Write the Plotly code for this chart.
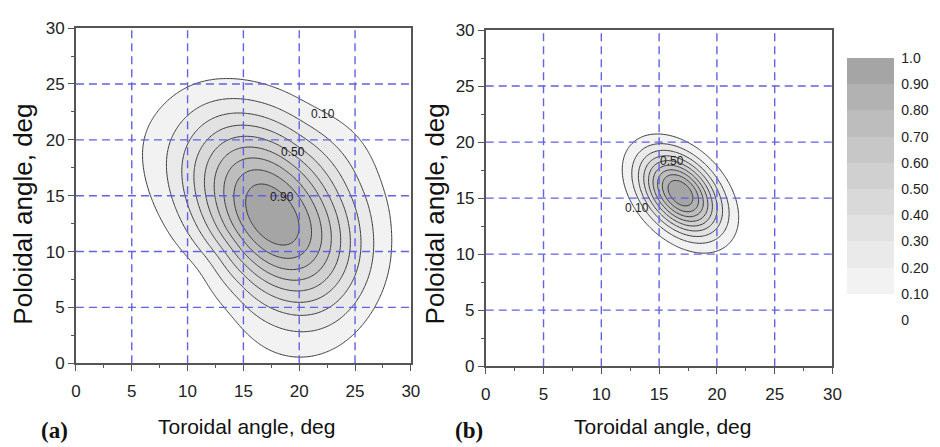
import numpy as np
import plotly.graph_objects as go

W, H = 940, 447

# ---------------- data ----------------
tick_vals = [0, 5, 10, 15, 20, 25, 30]
minor_vals = [2.5, 7.5, 12.5, 17.5, 22.5, 27.5]
grid_vals = [5, 10, 15, 20, 25]
levels_start, levels_end, levels_step = 0.1, 0.9, 0.1
cbar_vals = [0, 0.1, 0.2, 0.3, 0.4, 0.5, 0.6, 0.7, 0.8, 0.9, 1.0]
cbar_text = ["0", "0.10", "0.20", "0.30", "0.40", "0.50", "0.60", "0.70", "0.80", "0.90", "1.0"]

# panel (a): peak position and points on the 0.10 contour
peak_a_x, peak_a_y = 17.5, 13.2
edge_a_x = [28.2, 27.2, 25.3, 21.0, 17.2, 12.8, 10.0, 7.0, 5.7, 6.0, 7.5, 9.7, 11.3, 14.2, 16.6, 20.1, 23.6, 26.7]
edge_a_y = [11.7, 16.3, 20.3, 22.9, 24.85, 25.5, 25.0, 22.3, 20.0, 18.3, 13.4, 10.0, 8.3, 4.3, 1.4, 0.3, 1.4, 4.9]
label_a_text = ["0.10", "0.50", "0.90"]
label_a_x = [22.1, 19.4, 18.5]
label_a_y = [22.3, 18.9, 14.9]

# panel (b)
peak_b_x, peak_b_y = 16.85, 15.45
edge_b_x = [21.9, 21.5, 19.8, 17.5, 14.7, 12.4, 11.7, 12.4, 13.8, 17.5, 18.9, 20.9]
edge_b_y = [13.7, 15.4, 18.0, 20.3, 20.3, 19.4, 17.7, 14.5, 13.1, 10.2, 9.9, 11.2]
label_b_text = ["0.50", "0.10"]
label_b_x = [16.1, 13.1]
label_b_y = [18.35, 14.1]

# ---------------- field construction ----------------
gx = np.linspace(0, 30, 241)
gy = np.linspace(0, 30, 241)


def basis(th, order):
    cols = [np.ones_like(th)]
    for k in range(1, order + 1):
        cols += [np.cos(k * th), np.sin(k * th)]
    return np.stack(cols, axis=-1)


def ellipse_s(px, py, ex, ey):
    # normalised squared radius (1 on the fitted 0.10 ellipse)
    dx = np.asarray(ex) - px
    dy = np.asarray(ey) - py
    th = np.arctan2(dy, dx)
    w = 1.0 / (dx ** 2 + dy ** 2)
    coef, *_ = np.linalg.lstsq(basis(th, 2), w, rcond=None)
    X, Y = np.meshgrid(gx, gy)
    DX, DY = X - px, Y - py
    return (DX ** 2 + DY ** 2) * (basis(np.arctan2(DY, DX), 2) @ coef)


def outline_s(px, py, ex, ey, smooth_deg=8.0):
    # normalised squared radius (1 on the traced 0.10 contour, lightly smoothed)
    dx = np.asarray(ex) - px
    dy = np.asarray(ey) - py
    ang = np.degrees(np.arctan2(dy, dx))
    rad = np.hypot(dx, dy)
    o = np.argsort(ang)
    fine = np.arange(0, 360, 0.5)
    r_lin = np.interp(fine, ang[o], rad[o], period=360)
    k = np.arange(-60, 61) * 0.5
    ker = np.exp(-0.5 * (k / smooth_deg) ** 2)
    ker /= ker.sum()
    ext = np.concatenate([r_lin[-60:], r_lin, r_lin[:60]])
    r_s = np.convolve(ext, ker, mode="same")[60:-60]
    X, Y = np.meshgrid(gx, gy)
    DX, DY = X - px, Y - py
    th = np.degrees(np.arctan2(DY, DX)) % 360
    R = np.interp(th, fine, r_s, period=360)
    return (DX ** 2 + DY ** 2) / R ** 2


def field_blend(px, py, ex, ey):
    se = ellipse_s(px, py, ex, ey)
    so = outline_s(px, py, ex, ey)
    t = np.clip(so, 0, 1)
    return 0.1 ** (se * (1 - t) + so * t)


Za = field_blend(peak_a_x, peak_a_y, edge_a_x, edge_a_y)
Zb = 0.1 ** ellipse_s(peak_b_x, peak_b_y, edge_b_x, edge_b_y)

# stepwise grey colour scale (0..1 in 10 bands)
greys = [255, 242, 234, 226, 217, 208, 199, 189, 178, 165]
cs = []
for i, g in enumerate(greys):
    c = f"rgb({g},{g},{g})"
    cs.append([i / 10, c])
    cs.append([(i + 1) / 10, c])

fig = go.Figure()
line_style = dict(color="#3a3a3a", width=1)
contours = dict(start=levels_start, end=levels_end, size=levels_step, coloring="fill", showlabels=False)
fig.add_trace(go.Contour(x=gx, y=gy, z=Za, coloraxis="coloraxis", contours=contours,
                         line=line_style, xaxis="x", yaxis="y", hoverinfo="skip"))
fig.add_trace(go.Contour(x=gx, y=gy, z=Zb, coloraxis="coloraxis", contours=contours,
                         line=line_style, xaxis="x2", yaxis="y2", hoverinfo="skip"))
# invisible carrier for the stepped colour key
fig.add_trace(go.Heatmap(z=[[cbar_vals[0], cbar_vals[-1]]], coloraxis="coloraxis2", opacity=0,
                         xaxis="x3", yaxis="y3", hoverinfo="skip"))


def px2x(p):
    return p / W


def py2y(p):
    return 1 - p / H


FONT = "Arial, Liberation Sans"
axis_common = dict(
    range=[-0.0001, 30.0001], tickvals=tick_vals, ticktext=[str(v) for v in tick_vals],
    showline=True, mirror=True, linecolor="#555555", linewidth=1.5,
    ticks="outside", ticklen=6, tickwidth=1.2, tickcolor="#555555",
    minor=dict(tickvals=minor_vals, ticks="outside", ticklen=3, tickcolor="#555555", tickwidth=1),
    showgrid=False, zeroline=False,
    tickfont=dict(family=FONT, size=17, color="#222222"),
)

xa = dict(axis_common, domain=[px2x(72), px2x(412)], anchor="y", ticklabelstandoff=6)
ya = dict(axis_common, domain=[py2y(370), py2y(20)], anchor="x")
xb = dict(axis_common, domain=[px2x(488), px2x(840)], anchor="y2", ticklabelstandoff=6)
yb = dict(axis_common, domain=[py2y(373), py2y(22)], anchor="x2")

# dashed blue grid drawn above the filled contours
shapes = []
grid_line = dict(color="rgb(98,98,226)", width=1.4, dash="8px,5px")
for xr, yr in (("x", "y"), ("x2", "y2")):
    for v in grid_vals:
        shapes.append(dict(type="line", xref=xr, yref=yr, x0=v, x1=v, y0=0, y1=30, line=grid_line, layer="above"))
        shapes.append(dict(type="line", xref=xr, yref=yr, x0=0, x1=30, y0=v, y1=v, line=grid_line, layer="above"))

annotations = []
lab_font = dict(family=FONT, size=12, color="#222")
for t, x, y in zip(label_a_text, label_a_x, label_a_y):
    annotations.append(dict(text=t, x=x, y=y, xref="x", yref="y", showarrow=False, font=lab_font))
for t, x, y in zip(label_b_text, label_b_x, label_b_y):
    annotations.append(dict(text=t, x=x, y=y, xref="x2", yref="y2", showarrow=False, font=lab_font))

title_font_x = dict(family=FONT, size=21, color="#111")
title_font_y = dict(family=FONT, size=26, color="#111")
for cx in (245, 667):
    annotations.append(dict(text="Toroidal angle, deg", x=px2x(cx), y=py2y(436), xref="paper", yref="paper",
                            showarrow=False, font=title_font_x, xanchor="center", yanchor="middle"))
for cx in (18, 436):
    annotations.append(dict(text="Poloidal angle, deg", x=px2x(cx), y=py2y(214), xref="paper", yref="paper",
                            showarrow=False, font=title_font_y, textangle=-90, xanchor="center", yanchor="middle"))

panel_font = dict(family="Times New Roman, Liberation Serif, serif", size=23, color="#111")
annotations.append(dict(text="<b>(a)</b>", x=px2x(50), y=py2y(440), xref="paper", yref="paper",
                        showarrow=False, font=panel_font, xanchor="center", yanchor="middle"))
annotations.append(dict(text="<b>(b)</b>", x=px2x(471), y=py2y(440), xref="paper", yref="paper",
                        showarrow=False, font=panel_font, xanchor="center", yanchor="middle"))

fig.update_layout(
    width=W, height=H, margin=dict(l=0, r=0, t=0, b=0),
    paper_bgcolor="white", plot_bgcolor="white",
    xaxis=xa, yaxis=ya, xaxis2=xb, yaxis2=yb,
    xaxis3=dict(domain=[0, 0.001], visible=False, anchor="y3"),
    yaxis3=dict(domain=[0, 0.001], visible=False, anchor="x3"),
    shapes=shapes, annotations=annotations, showlegend=False,
    coloraxis=dict(colorscale=cs, cmin=0, cmax=1, showscale=False),
    coloraxis2=dict(
        colorscale=cs, cmin=0, cmax=1, showscale=True,
        colorbar=dict(
            x=px2x(855), xanchor="left", xpad=0, xref="paper",
            y=py2y(188), yanchor="middle", ypad=0, yref="paper",
            thickness=47, thicknessmode="pixels", len=262, lenmode="pixels",
            outlinewidth=0, tickvals=cbar_vals, ticktext=cbar_text,
            ticks="outside", ticklen=5, tickcolor="rgba(0,0,0,0)",
            tickfont=dict(family=FONT, size=14, color="#222"),
        ),
    ),
)

fig.write_html("out.html")
